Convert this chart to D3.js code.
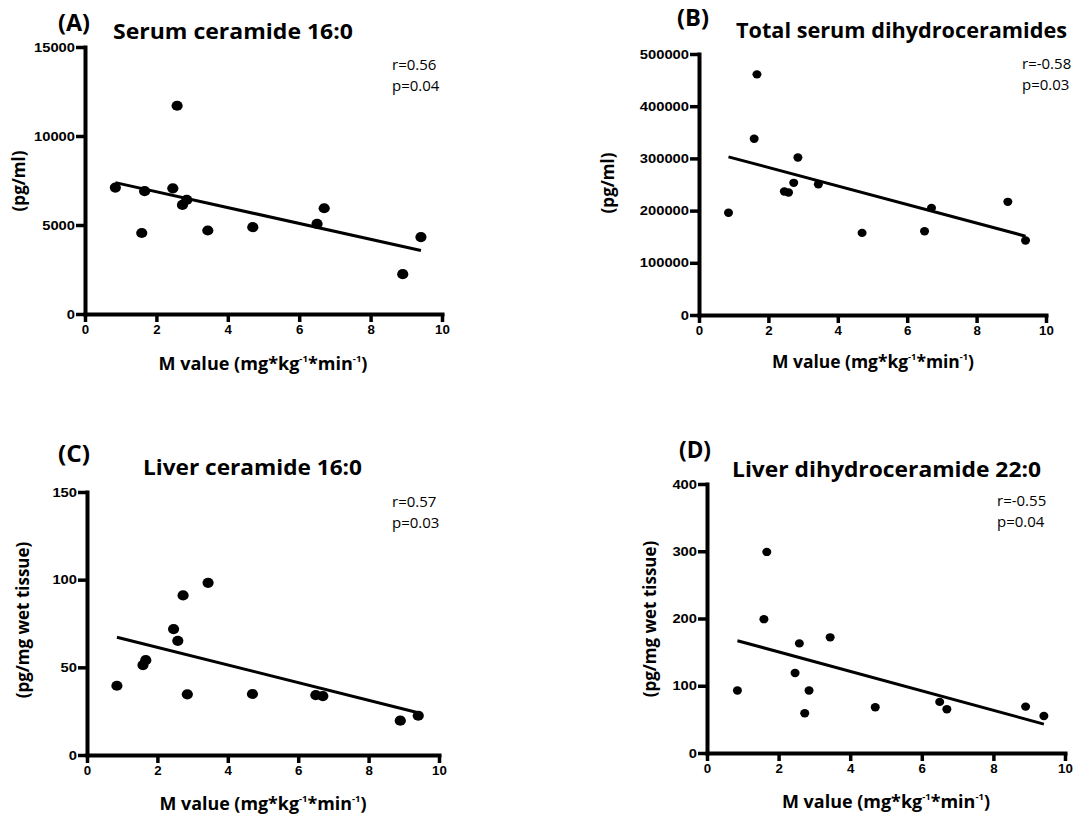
<!DOCTYPE html>
<html>
<head>
<meta charset="utf-8">
<script src="https://cdn.jsdelivr.net/npm/d3@7"></script>
<style>
  body { margin: 0; background: #fff; }
  svg { display: block; font-family: "Open Sans", sans-serif; }
  .tick text { font-weight: bold; font-size: 13px; fill: #000; }
</style>
</head>
<body>
<svg width="1078" height="821"></svg>
<script>
// M value (x) shared by all four panels
var mValue = [0.85, 1.59, 1.67, 2.46, 2.58, 2.73, 2.85, 3.44, 4.70, 6.50, 6.70, 8.90, 9.41];

var serumCer16 = [7100, 4550, 6900, 7060, 11700, 6130, 6410, 4690, 4880, 5060, 5940, 2240, 4320];
var serumDihydro = [196000, 337600, 461000, 236600, 234700, 253200, 301800, 250600, 157300, 160500, 205200, 216800, 142600];
var liverCer16 = [39.5, 51.3, 54.1, 71.8, 65.1, 91.0, 34.6, 98.2, 34.8, 34.2, 33.6, 19.6, 22.4];
var liverDihydro22 = [93, 199, 299, 119, 163, 59, 93, 172, 68, 76, 65, 69, 55];

// fitted line values at min and max M value
var fitSerumCer16 = [7380, 3570];
var fitSerumDihydro = [303000, 151000];
var fitLiverCer16 = [67.2, 24.1];
var fitLiverDihydro22 = [167, 43];

var xTicks = [0, 2, 4, 6, 8, 10];
var yTicksA = [0, 5000, 10000, 15000];
var yTicksB = [0, 100000, 200000, 300000, 400000, 500000];
var yTicksC = [0, 50, 100, 150];
var yTicksD = [0, 100, 200, 300, 400];

var letters = ["(A)", "(B)", "(C)", "(D)"];
var titles = ["Serum ceramide 16:0", "Total serum dihydroceramides", "Liver ceramide 16:0", "Liver dihydroceramide 22:0"];
var yLabels = ["(pg/ml)", "(pg/ml)", "(pg/mg wet tissue)", "(pg/mg wet tissue)"];
var rText = ["r=0.56", "r=-0.58", "r=0.57", "r=-0.55"];
var pText = ["p=0.04", "p=0.03", "p=0.03", "p=0.04"];

var svg = d3.select("svg");
svg.append("rect").attr("width", 1078).attr("height", 821).attr("fill", "#fff");

var panels = [
  { y: serumCer16, fit: fitSerumCer16, yTicks: yTicksA,
    box: { l: 85, r: 442, t: 47, b: 314 }, rx: 5.6, ry: 5.1,
    letter: [58, 31], title: [113, 39, 240, 22], stats: [392, 70],
    yLab: [25, 181], xLab: [263, 370, 209] },
  { y: serumDihydro, fit: fitSerumDihydro, yTicks: yTicksB,
    box: { l: 699, r: 1046, t: 54, b: 315 }, rx: 4.5, ry: 4.2,
    letter: [677, 26], title: [736, 38, 331, 20.5], stats: [1022, 69],
    yLab: [614, 183], xLab: [873, 368, 202] },
  { y: liverCer16, fit: fitLiverCer16, yTicks: yTicksC,
    box: { l: 87, r: 439, t: 492, b: 755 }, rx: 5.6, ry: 5.1,
    letter: [58, 462], title: [143, 475, 219, 20.5], stats: [392, 507],
    yLab: [29, 620], xLab: [263, 810, 207] },
  { y: liverDihydro22, fit: fitLiverDihydro22, yTicks: yTicksD,
    box: { l: 707, r: 1065, t: 484, b: 753 }, rx: 4.5, ry: 4.2,
    letter: [679, 458], title: [732, 477, 309, 21.5], stats: [997, 506],
    yLab: [656, 619], xLab: [886, 808, 208] }
];

panels.forEach(function(p, i) {
  var x = d3.scaleLinear().domain([0, 10]).range([p.box.l, p.box.r]);
  var y = d3.scaleLinear().domain([0, d3.max(p.yTicks)]).range([p.box.b, p.box.t]);
  var g = svg.append("g");

  var xAxis = g.append("g")
    .attr("transform", "translate(0," + p.box.b + ")")
    .call(d3.axisBottom(x).tickValues(xTicks).tickSize(8).tickSizeOuter(0).tickPadding(3).tickFormat(d3.format("d")));
  var yAxis = g.append("g")
    .attr("transform", "translate(" + p.box.l + ",0)")
    .call(d3.axisLeft(y).tickValues(p.yTicks).tickSize(9).tickSizeOuter(0).tickPadding(1).tickFormat(d3.format("d")));

  [xAxis, yAxis].forEach(function(a) {
    a.select(".domain").attr("stroke", "#000").attr("stroke-width", 4).attr("stroke-linecap", "square");
    a.selectAll(".tick line").attr("stroke", "#000").attr("stroke-width", 3.5);
  });
  // wide, squat digits like the original
  yAxis.selectAll(".tick text")
    .attr("textLength", function(d) { return String(d).length * 8.2; })
    .attr("lengthAdjust", "spacingAndGlyphs");
  xAxis.selectAll(".tick text")
    .attr("textLength", function(d) { return String(d).length * 7.4; })
    .attr("lengthAdjust", "spacingAndGlyphs");

  // regression line
  var xs = d3.extent(mValue);
  g.append("line")
    .attr("x1", x(xs[0])).attr("y1", y(p.fit[0]))
    .attr("x2", x(xs[1])).attr("y2", y(p.fit[1]))
    .attr("stroke", "#000").attr("stroke-width", 3);

  g.selectAll("ellipse")
    .data(mValue.map(function(m, j) { return [m, p.y[j]]; }))
    .enter().append("ellipse")
    .attr("cx", function(d) { return x(d[0]); })
    .attr("cy", function(d) { return y(d[1]); })
    .attr("rx", p.rx).attr("ry", p.ry)
    .attr("fill", "#000");

  g.append("text")
    .attr("x", p.letter[0]).attr("y", p.letter[1])
    .attr("font-size", 23).attr("font-weight", "bold")
    .attr("textLength", 32).attr("lengthAdjust", "spacingAndGlyphs")
    .text(letters[i]);

  g.append("text")
    .attr("x", p.title[0]).attr("y", p.title[1])
    .attr("font-size", p.title[3]).attr("font-weight", "bold")
    .attr("textLength", p.title[2]).attr("lengthAdjust", "spacingAndGlyphs")
    .text(titles[i]);

  g.append("text")
    .attr("x", p.stats[0]).attr("y", p.stats[1])
    .attr("font-size", 15)
    .text(rText[i]);
  g.append("text")
    .attr("x", p.stats[0]).attr("y", p.stats[1] + 21)
    .attr("font-size", 15)
    .text(pText[i]);

  g.append("text")
    .attr("transform", "translate(" + p.yLab[0] + "," + p.yLab[1] + ") rotate(-90)")
    .attr("text-anchor", "middle")
    .attr("font-size", 17).attr("font-weight", "bold")
    .text(yLabels[i]);

  var xl = g.append("text")
    .attr("x", p.xLab[0]).attr("y", p.xLab[1])
    .attr("text-anchor", "middle")
    .attr("font-size", 17).attr("font-weight", "bold")
    .attr("textLength", p.xLab[2]).attr("lengthAdjust", "spacingAndGlyphs");
  xl.append("tspan").text("M value (mg*kg");
  xl.append("tspan").attr("dy", -8).attr("font-size", 9).text("-1");
  xl.append("tspan").attr("dy", 8).text("*min");
  xl.append("tspan").attr("dy", -8).attr("font-size", 9).text("-1");
  xl.append("tspan").attr("dy", 8).text(")");
});
</script>
</body>
</html>
